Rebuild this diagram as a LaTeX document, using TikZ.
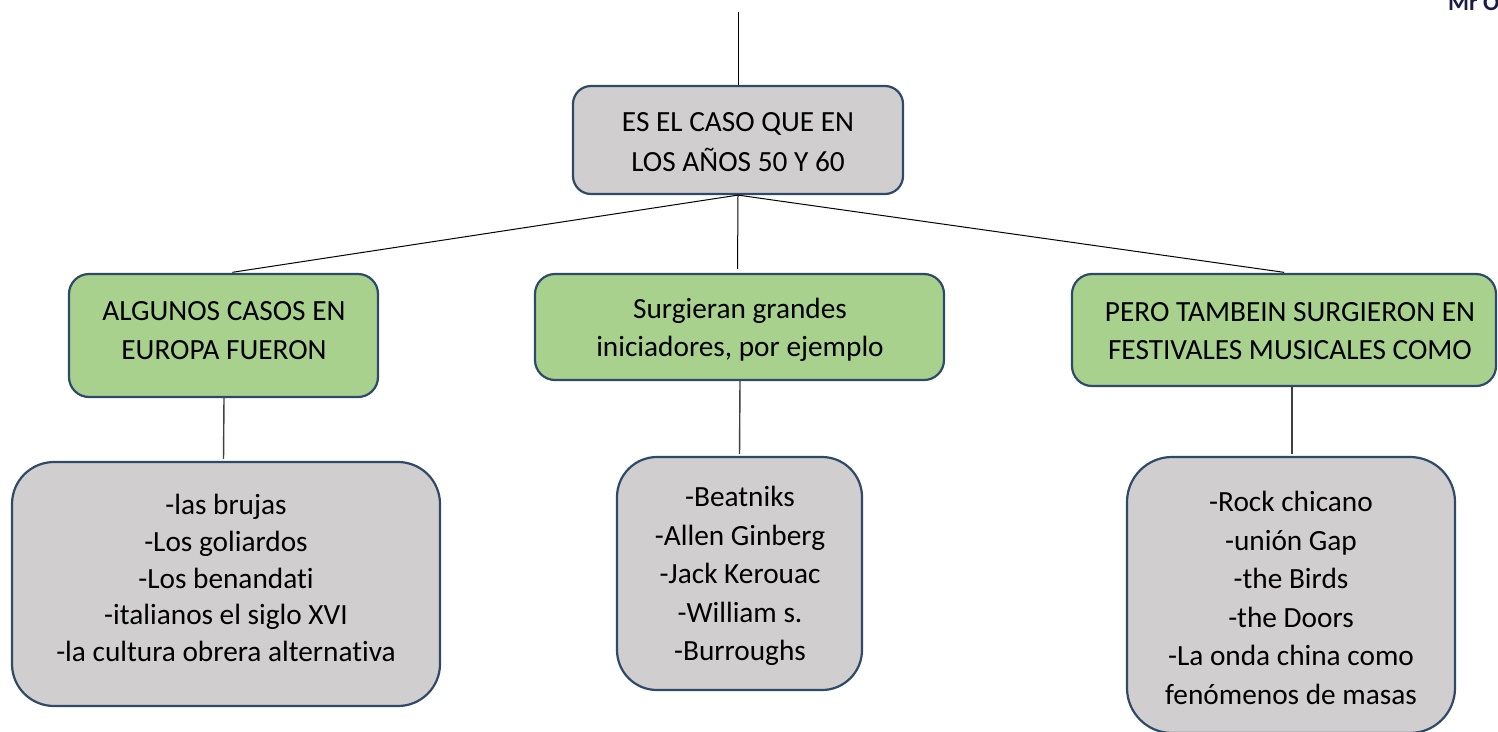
\documentclass[tikz,border=0pt]{standalone}
\usepackage{fontspec}
\setmainfont{Carlito}[Ligatures=NoCommon]
\definecolor{boxgray}{HTML}{D0CECE}
\definecolor{boxgreen}{HTML}{A9D18E}
\definecolor{edgeblue}{HTML}{2E4A68}
\definecolor{hdrnavy}{HTML}{1B1B4A}
\begin{document}
\begin{tikzpicture}[x=1pt,y=-1pt,
  boxbase/.style={draw=edgeblue, line width=2.2pt, inner sep=0pt},
  graybox/.style={boxbase, fill=boxgray},
  greenbox/.style={boxbase, fill=boxgreen, rounded corners=20pt},
  txt/.style={align=center, inner sep=0pt, font=\fontsize{29.3}{38.5}\selectfont},
  conn/.style={draw=black, line width=1pt},
  drop/.style={draw=black!75, line width=1.4pt}]
\useasboundingbox (0,0) rectangle (1498,731);
\clip (0,0) rectangle (1498,731);

% header fragment
\node[anchor=base west, inner sep=0pt, text=hdrnavy, font=\fontsize{24}{28}\selectfont\bfseries] (hdr) at (1448,10) {Mr Or};

% top box
\node[graybox, rounded corners=18pt, minimum width=330pt, minimum height=108pt] (top) at (738,140) {};
\node[txt, font=\fontsize{29.3}{40}\selectfont] (toptxt) at (738,142) {ES EL CASO QUE EN\\LOS AÑOS 50 Y 60};
\coordinate (start) at (738,12);

% green boxes
\node[greenbox, minimum width=309pt, minimum height=123pt] (g1) at (223.5,335.5) {};
\node[txt, font=\fontsize{29.3}{39}\selectfont] (g1txt) at (224,331) {ALGUNOS CASOS EN\\EUROPA FUERON};
\node[greenbox, minimum width=409pt, minimum height=106pt] (g2) at (739.5,327) {};
\node[txt, font=\fontsize{29.3}{37.5}\selectfont] (g2txt) at (740,330) {Surgieran grandes\\iniciadores, por ejemplo};
\node[greenbox, minimum width=424pt, minimum height=112pt] (g3) at (1284,330) {};
\node[txt, font=\fontsize{29.3}{38}\selectfont] (g3txt) at (1290,331) {PERO TAMBEIN SURGIERON EN\\FESTIVALES MUSICALES COMO};

% bottom boxes
\node[graybox, rounded corners=42pt, minimum width=428pt, minimum height=244pt] (b1) at (226,584) {};
\node[txt, font=\fontsize{29.3}{36.8}\selectfont] (b1txt) at (226,578) {-las brujas\\-Los goliardos\\-Los benandati\\-italianos el siglo XVI\\-la cultura obrera alternativa};
\node[graybox, rounded corners=40pt, minimum width=245pt, minimum height=233pt] (b2) at (739.5,573.5) {};
\node[txt] (b2txt) at (740,576) {-Beatniks\\-Allen Ginberg\\-Jack Kerouac\\-William s.\\-Burroughs};
\node[graybox, rounded corners=45pt, minimum width=328pt, minimum height=276pt] (b3) at (1291,595) {};
\node[txt] (b3txt) at (1291,598) {-Rock chicano\\-unión Gap\\-the Birds\\-the Doors\\-La onda china como\\fenómenos de masas};

% connectors
\draw[conn] (start) -- (top.north);
\draw[conn, shorten >=4pt] (top.south) -- ([xshift=5pt]g1.north);
\draw[conn, shorten >=4pt] (top.south) -- ([xshift=-2pt]g2.north);
\draw[conn, shorten >=4pt] (top.south) -- ([xshift=4pt]g3.north);
\draw[drop, shorten >=2pt] ([xshift=0.5pt]g1.south) -- (b1.north -| g1.south);
\draw[drop, shorten >=2pt] ([xshift=0.5pt]g2.south) -- (b2.north -| g2.south);
\draw[drop, shorten >=2pt] ([xshift=8pt]g3.south) -- ([xshift=1pt]b3.north);
\end{tikzpicture}
\end{document}
